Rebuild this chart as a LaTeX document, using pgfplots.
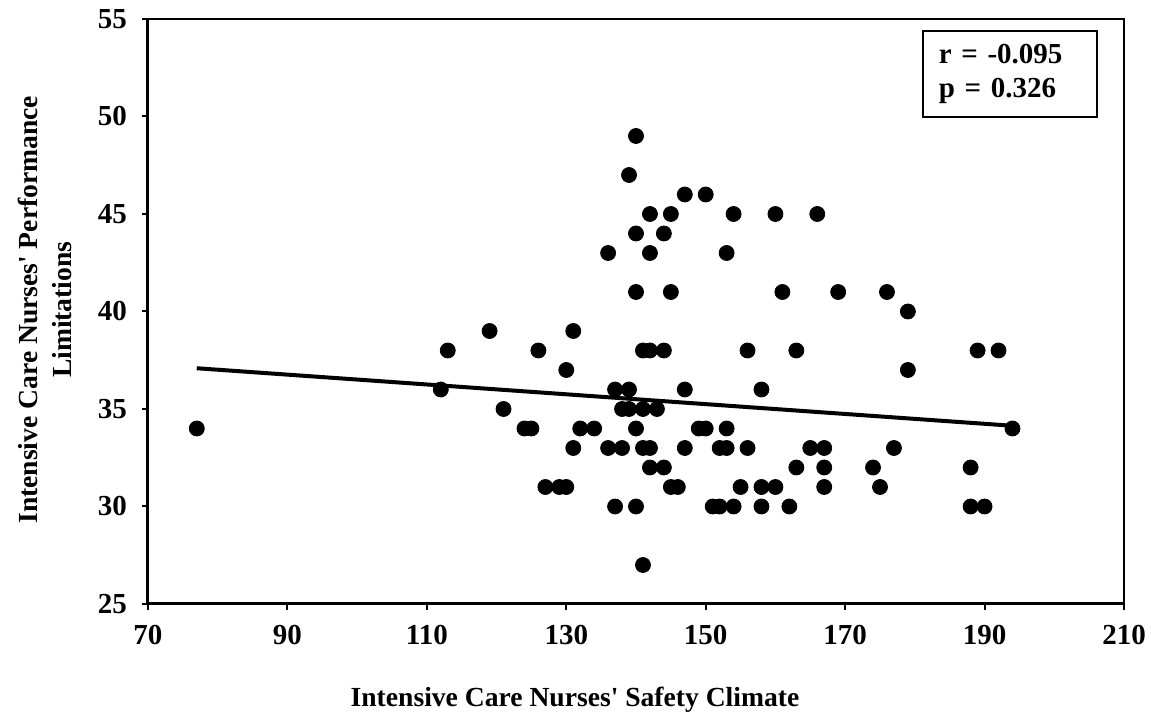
\documentclass[border=0pt]{standalone}
\usepackage{fontspec}
\setmainfont{Liberation Serif}
\usepackage{textcomp}
\usepackage{pgfplots}
\pgfplotsset{compat=1.18}

\begin{document}
\begin{tikzpicture}
\useasboundingbox (-74pt,-58.5pt) rectangle (501.5pt,302pt);
\begin{axis}[
    at={(0,0)}, anchor=south west,
    width=488pt, height=292.5pt,
    scale only axis,
    xmin=70, xmax=210, ymin=25, ymax=55,
    xtick={70,90,...,210},
    ytick={25,30,...,55},
    axis x line*=bottom,
    axis y line*=left,
    axis line style={-, line width=1.5pt},
    tick align=outside,
    major tick length=3pt,
    tick style={line width=1pt, black},
    /pgf/number format/assume math mode=true,
    ticklabel style={font=\fontsize{14.5}{17}\selectfont\bfseries},
    xticklabel style={yshift=-4pt},
    yticklabel style={xshift=-4pt},
    label style={font=\fontsize{13.8}{17}\selectfont\bfseries},
    xlabel={Intensive Care Nurses\textquotesingle{} Safety Climate},
    xlabel style={at={(axis description cs:0.4375,-0.164)}, anchor=center},
    ylabel={Intensive Care Nurses\textquotesingle{} Performance\\Limitations},
    ylabel style={at={(axis description cs:-0.1055,0.503)}, anchor=center, align=center},
    clip=false,
]
% data points
\addplot[only marks, mark=*, mark size=3.75pt, black] coordinates {
(77,34) (112,36) (113,38) (119,39) (121,35) (124,34) (125,34) (126,38)
(127,31) (129,31) (130,31) (130,37) (131,39) (131,33) (132,34) (134,34)
(136,43) (136,33) (137,36) (137,30) (138,35) (138,33) (139,47) (139,36)
(139,35) (140,49) (140,44) (140,41) (140,34) (140,30) (141,38) (141,35)
(141,33) (141,27) (142,45) (142,43) (142,38) (142,33) (142,32) (143,35)
(144,44) (144,38) (144,32) (145,45) (145,41) (145,31) (146,31) (147,46)
(147,36) (147,33) (149,34) (150,46) (150,34) (151,30) (152,33) (152,30)
(153,43) (153,34) (153,33) (154,45) (154,30) (155,31) (156,38) (156,33)
(158,36) (158,31) (158,30) (160,45) (160,31) (161,41) (162,30) (163,38)
(163,32) (165,33) (166,45) (167,33) (167,32) (167,31) (169,41) (174,32)
(175,31) (176,41) (177,33) (179,40) (179,37) (188,32) (188,30) (189,38)
(190,30) (192,38) (194,34)
};
% linear trend
\addplot[black, line width=2pt] coordinates {(77,37.09) (194,34.14)};
\draw[line width=1pt] (rel axis cs:0,1) -- (rel axis cs:1,1) -- (rel axis cs:1,0);
\node[draw, line width=0.8pt, text width=71pt, inner xsep=8pt, inner ysep=0pt,
      minimum height=43pt, align=left,
      font=\fontsize{14.5}{17.4}\selectfont\bfseries]
      at (rel axis cs:0.883,0.906) {r = -0.095\\p = 0.326};
\end{axis}
\end{tikzpicture}
\end{document}
